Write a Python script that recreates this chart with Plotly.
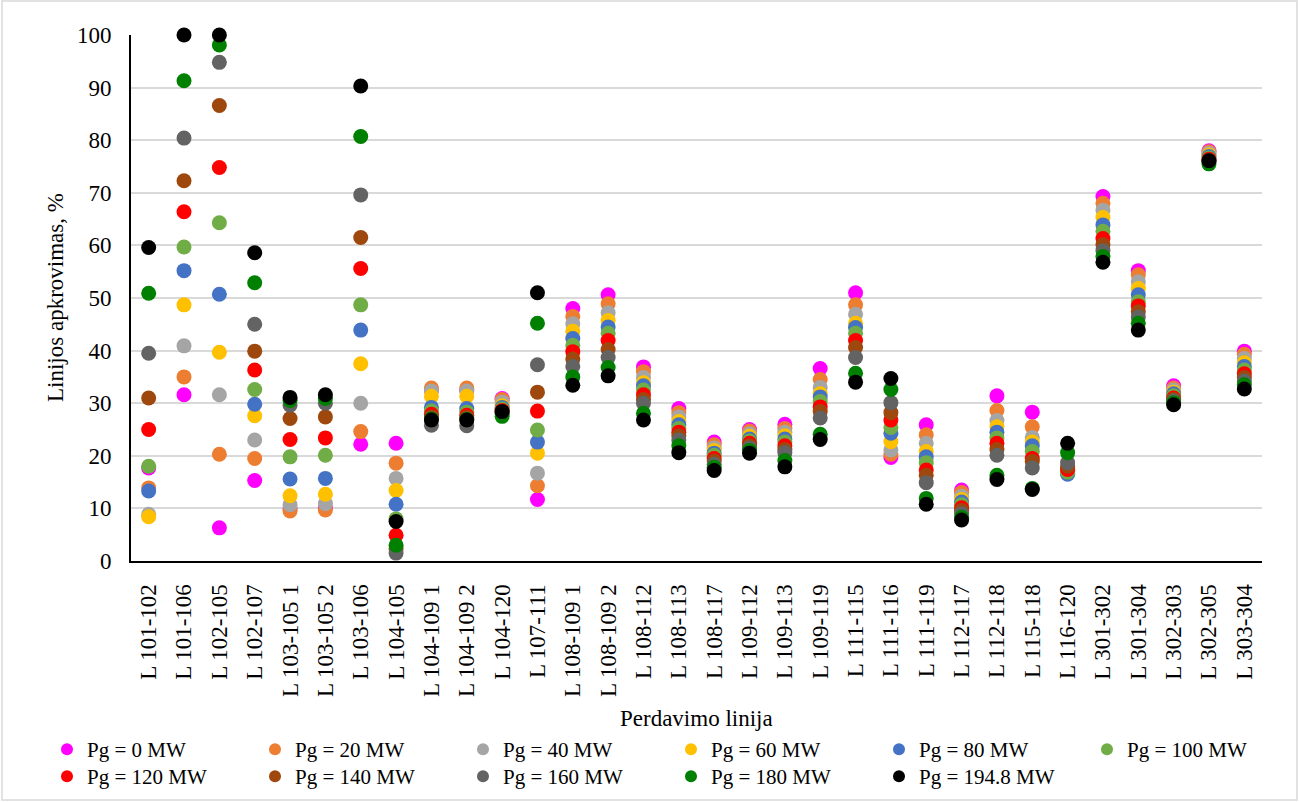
import plotly.graph_objects as go

# Transmission lines (x categories)
lines = [
    "L 101-102", "L 101-106", "L 102-105", "L 102-107", "L 103-105 1",
    "L 103-105 2", "L 103-106", "L 104-105", "L 104-109 1", "L 104-109 2",
    "L 104-120", "L 107-111", "L 108-109 1", "L 108-109 2", "L 108-112",
    "L 108-113", "L 108-117", "L 109-112", "L 109-113", "L 109-119",
    "L 111-115", "L 111-116", "L 111-119", "L 112-117", "L 112-118",
    "L 115-118", "L 116-120", "L 301-302", "L 301-304", "L 302-303",
    "L 302-305", "L 303-304",
]

# Line loading, % for each generator output level
pg_0 = [17.7, 31.6, 6.3, 15.3, 10.0, 10.2, 22.2, 22.4, 32.5, 32.5,
        30.9, 11.7, 48.0, 50.6, 36.9, 29.0, 22.6, 25.0, 26.0, 36.6,
        51.0, 19.7, 25.9, 13.5, 31.4, 28.3, 17.2, 69.3, 55.2, 33.3,
        78.0, 39.9]
pg_20 = [13.9, 35.0, 20.3, 19.5, 9.5, 9.7, 24.6, 18.6, 32.9, 32.9,
         30.7, 14.3, 46.5, 48.9, 36.0, 28.2, 22.1, 24.7, 25.2, 34.5,
         48.7, 20.3, 24.0, 13.0, 28.6, 25.5, 17.0, 68.0, 54.4, 32.9,
         77.8, 39.3]
pg_40 = [8.9, 40.9, 31.6, 23.0, 10.7, 10.9, 30.0, 15.7, 32.3, 32.3,
         30.2, 16.7, 45.1, 47.2, 34.9, 27.4, 21.5, 24.2, 24.5, 33.0,
         46.9, 21.1, 22.4, 12.3, 26.7, 23.5, 16.8, 66.7, 53.1, 32.5,
         77.5, 38.5]
pg_60 = [8.4, 48.7, 39.7, 27.6, 12.4, 12.7, 37.5, 13.4, 31.3, 31.3,
         29.5, 20.5, 43.7, 45.7, 33.9, 26.5, 21.0, 23.7, 23.8, 31.8,
         45.2, 22.7, 20.8, 11.7, 25.5, 22.6, 16.7, 65.3, 51.8, 32.1,
         77.2, 37.7]
pg_80 = [13.3, 55.2, 50.7, 29.8, 15.6, 15.7, 43.9, 10.8, 29.2, 29.0,
         29.2, 22.6, 42.3, 44.5, 33.3, 25.9, 20.5, 23.2, 23.2, 31.2,
         44.4, 24.3, 19.8, 11.2, 24.5, 21.9, 16.5, 63.9, 50.6, 31.8,
         76.9, 37.0]
pg_100 = [18.0, 59.7, 64.3, 32.6, 19.8, 20.1, 48.7, 8.0, 28.5, 28.3,
          28.9, 24.9, 41.0, 43.3, 32.5, 25.2, 20.1, 22.8, 22.6, 30.3,
          43.3, 25.4, 18.7, 10.7, 23.4, 20.8, 16.9, 62.7, 49.3, 31.4,
          76.6, 36.3]
pg_120 = [25.0, 66.4, 74.8, 36.3, 23.1, 23.4, 55.6, 4.9, 27.9, 27.7,
          28.6, 28.5, 39.8, 41.9, 31.6, 24.5, 19.5, 22.4, 21.9, 29.3,
          41.9, 26.8, 17.3, 10.1, 22.4, 19.5, 17.4, 61.3, 48.5, 31.0,
          76.4, 35.6]
pg_140 = [31.0, 72.3, 86.6, 39.9, 27.1, 27.4, 61.5, 2.3, 27.4, 27.3,
          28.3, 32.1, 38.4, 40.2, 30.7, 23.8, 19.0, 21.9, 21.2, 28.4,
          40.6, 28.2, 16.3, 9.6, 21.2, 18.9, 18.0, 60.1, 47.4, 30.7,
          76.2, 34.9]
pg_160 = [39.5, 80.4, 94.8, 45.0, 29.6, 30.0, 69.6, 1.5, 25.8, 25.7,
          28.0, 37.3, 37.0, 38.7, 30.0, 23.0, 18.4, 21.5, 20.6, 27.2,
          38.7, 30.1, 14.9, 9.0, 20.1, 17.7, 18.7, 59.0, 46.4, 30.4,
          76.0, 34.2]
pg_180 = [50.9, 91.3, 98.1, 52.9, 30.5, 30.9, 80.7, 3.0, 27.0, 26.9,
          27.5, 45.2, 35.0, 36.8, 28.1, 21.9, 17.8, 21.0, 19.1, 24.1,
          35.7, 32.6, 11.9, 8.3, 16.3, 13.8, 20.6, 57.9, 45.2, 30.1,
          75.5, 33.5]
pg_194_8 = [59.6, 100.0, 100.0, 58.6, 31.1, 31.6, 90.3, 7.5, 26.8, 26.8,
            28.4, 51.0, 33.4, 35.2, 26.8, 20.6, 17.2, 20.5, 17.9, 23.1,
            34.0, 34.7, 10.8, 7.8, 15.5, 13.6, 22.4, 56.8, 43.9, 29.7,
            76.1, 32.7]

series_names = ["Pg = 0 MW", "Pg = 20 MW", "Pg = 40 MW", "Pg = 60 MW",
                "Pg = 80 MW", "Pg = 100 MW", "Pg = 120 MW", "Pg = 140 MW",
                "Pg = 160 MW", "Pg = 180 MW", "Pg = 194.8 MW"]
series_values = [pg_0, pg_20, pg_40, pg_60, pg_80, pg_100, pg_120, pg_140,
                 pg_160, pg_180, pg_194_8]
series_colors = ["#FF00FF", "#ED7D31", "#A5A5A5", "#FFC000", "#4472C4",
                 "#70AD47", "#FF0000", "#9E480E", "#636363", "#008000",
                 "#000000"]

y_ticks = [0, 10, 20, 30, 40, 50, 60, 70, 80, 90, 100]

FONT = "Liberation Serif, Times New Roman, serif"

fig = go.Figure()
for i, (name, vals, col) in enumerate(zip(series_names, series_values, series_colors)):
    # first six entries in the upper legend row, the rest in the lower row
    fig.add_trace(go.Scatter(
        x=lines, y=vals, name=name, mode="markers",
        marker=dict(color=col, size=15, line=dict(width=0)),
        cliponaxis=False,
        legend="legend" if i < 6 else "legend2",
    ))

W, H = 1299, 802
L, R, T, B = 131, 37, 35, 241
pw, ph = W - L - R, H - T - B


def px_x(p):
    return (p - L) / pw


def px_y(p):
    return (H - B - p) / ph


legend_style = dict(
    orientation="h", x=px_x(47), xanchor="left", yanchor="top",
    font=dict(family=FONT, size=21, color="black"),
    entrywidth=163, entrywidthmode="pixels",
    itemsizing="constant", bgcolor="rgba(0,0,0,0)",
)

fig.update_layout(
    width=W, height=H,
    margin=dict(l=L, r=R, t=T, b=B, autoexpand=False),
    paper_bgcolor="white", plot_bgcolor="white",
    font=dict(family=FONT, size=23, color="black"),
    showlegend=True,
    legend=dict(legend_style, y=px_y(729)),
    legend2=dict(legend_style, y=px_y(756)),
    xaxis=dict(
        type="category", categoryorder="array", categoryarray=lines,
        range=[-0.5, len(lines) - 0.5],
        showline=True, linecolor="black", linewidth=2,
        showgrid=False, zeroline=False,
        ticks="", tickangle=-90, ticklabelstandoff=12,
        tickfont=dict(family=FONT, size=23, color="black"),
    ),
    yaxis=dict(
        range=[0, 100], tickvals=y_ticks,
        showline=True, linecolor="black", linewidth=2,
        showgrid=True, gridcolor="#D9D9D9", gridwidth=1.5,
        zeroline=False, ticks="", ticklabelstandoff=13,
        tickfont=dict(family=FONT, size=23, color="black"),
    ),
    annotations=[
        dict(text="Perdavimo linija", xref="paper", yref="paper",
             x=0.5, y=px_y(718), xanchor="center", yanchor="middle",
             showarrow=False, font=dict(family=FONT, size=23)),
        dict(text="Linijos apkrovimas, %", xref="paper", yref="paper",
             x=px_x(55), y=0.5, xanchor="center", yanchor="middle",
             textangle=-90, showarrow=False, font=dict(family=FONT, size=23)),
    ],
    shapes=[
        dict(type="rect", xref="paper", yref="paper",
             x0=px_x(2), x1=px_x(1297), y0=px_y(800), y1=px_y(1),
             line=dict(color="#D9D9D9", width=1.5), layer="below"),
    ],
)

fig.write_html("out.html")
